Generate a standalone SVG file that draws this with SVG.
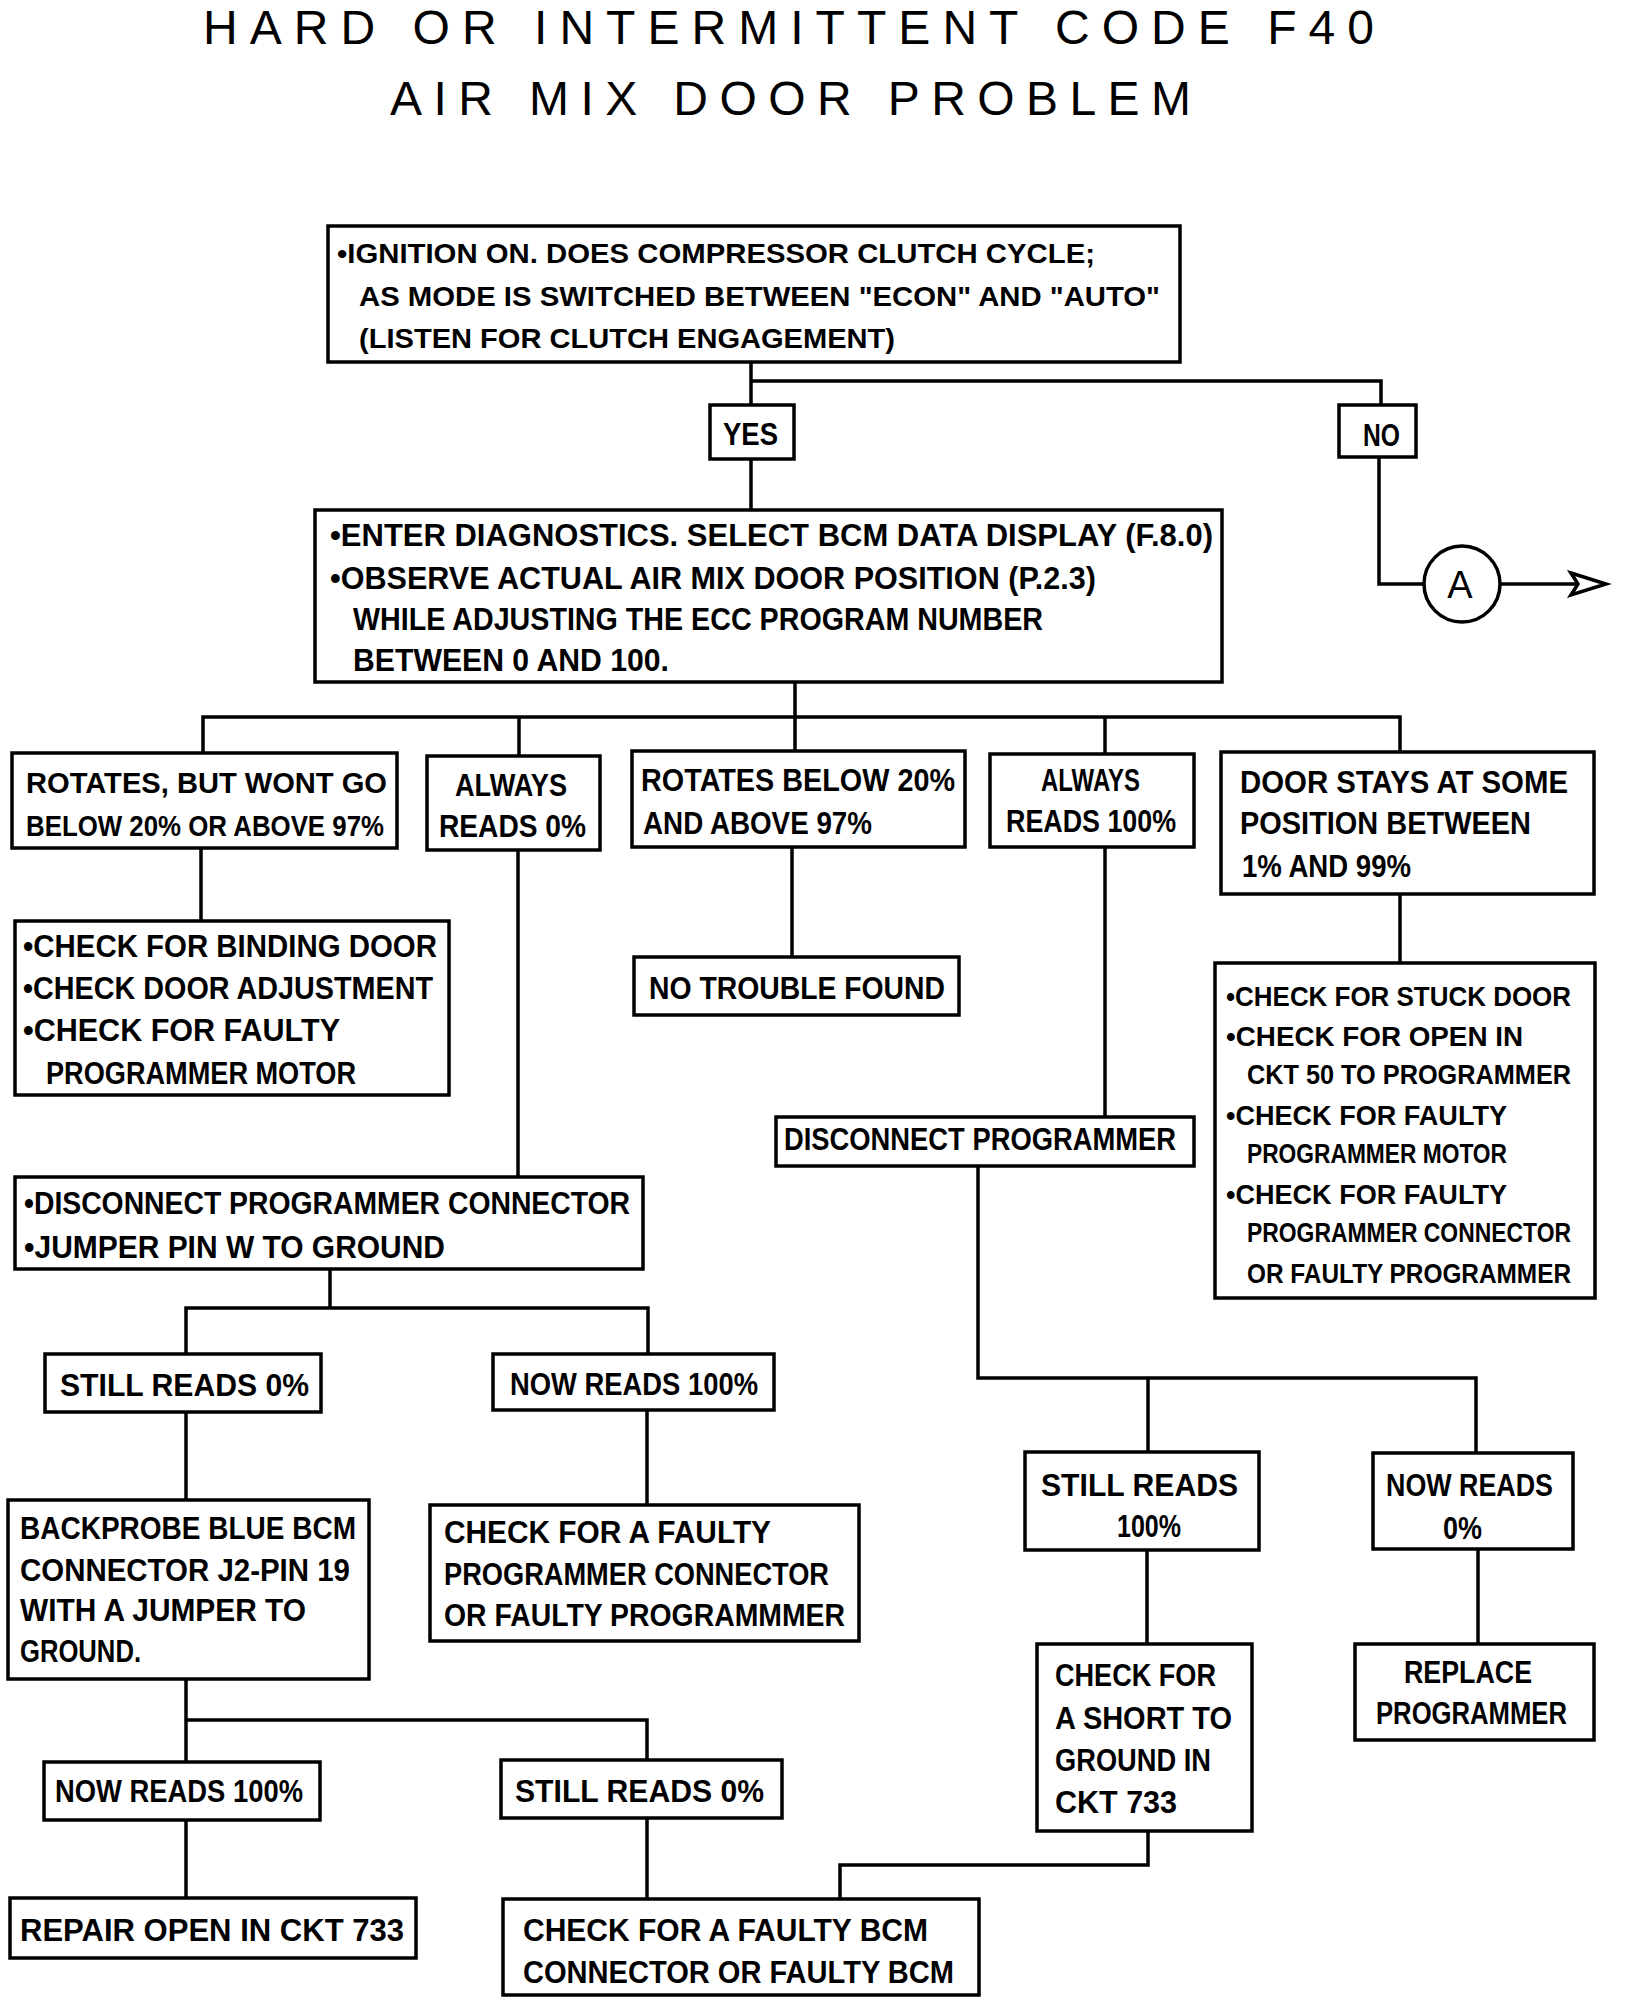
<svg xmlns="http://www.w3.org/2000/svg" width="1632" height="2000" viewBox="0 0 1632 2000">
<style>
.bg{fill:#fff}
.box{fill:#fff;stroke:#000;stroke-width:3.5}
.ln{fill:none;stroke:#000;stroke-width:3.5;stroke-linejoin:miter}
.t{font-family:"Liberation Sans",Arial,sans-serif;font-weight:bold;font-size:32px;fill:#000}
.s{font-size:28px}
.j{font-size:27px}
.a{font-size:29px}
.ttl{font-family:"Liberation Sans",Arial,sans-serif;font-weight:normal;font-size:48px;fill:#000}
</style>
<rect class="bg" x="0" y="0" width="1632" height="2000"/>
<g id="title">
<text class="ttl" x="203" y="44" textLength="1171" lengthAdjust="spacing">HARD OR INTERMITTENT CODE F40</text>
<text class="ttl" x="390" y="115" font-size="52" textLength="801" lengthAdjust="spacing">AIR MIX DOOR PROBLEM</text>
</g>
<g id="connectors">
<polyline class="ln" points="751,362 751,405"/>
<polyline class="ln" points="751,381 1381,381 1381,405"/>
<polyline class="ln" points="751,459 751,510"/>
<polyline class="ln" points="1379,457 1379,584 1424,584"/>
<line class="ln" x1="1500" y1="584" x2="1604" y2="584"/>
<polygon points="1571,573 1606,584 1571,595 1578,584" fill="#fff" stroke="#000" stroke-width="3.5" stroke-linejoin="miter"/>
<polyline class="ln" points="795,682 795,717"/>
<polyline class="ln" points="203,753 203,717 1400,717 1400,752"/>
<line class="ln" x1="519" y1="717" x2="519" y2="756"/>
<line class="ln" x1="795" y1="717" x2="795" y2="751"/>
<line class="ln" x1="1105" y1="717" x2="1105" y2="754"/>
<line class="ln" x1="201" y1="848" x2="201" y2="921"/>
<line class="ln" x1="792" y1="847" x2="792" y2="957"/>
<line class="ln" x1="518" y1="850" x2="518" y2="1177"/>
<line class="ln" x1="1105" y1="847" x2="1105" y2="1117"/>
<line class="ln" x1="1400" y1="894" x2="1400" y2="963"/>
<line class="ln" x1="330" y1="1269" x2="330" y2="1308"/>
<polyline class="ln" points="186,1354 186,1308 648,1308 648,1354"/>
<line class="ln" x1="186" y1="1412" x2="186" y2="1500"/>
<line class="ln" x1="647" y1="1410" x2="647" y2="1505"/>
<polyline class="ln" points="186,1762 186,1679"/>
<polyline class="ln" points="186,1720 647,1720 647,1760"/>
<line class="ln" x1="186" y1="1820" x2="186" y2="1898"/>
<line class="ln" x1="647" y1="1818" x2="647" y2="1899"/>
<polyline class="ln" points="978,1166 978,1378 1476,1378 1476,1453"/>
<line class="ln" x1="1148" y1="1378" x2="1148" y2="1452"/>
<line class="ln" x1="1147" y1="1550" x2="1147" y2="1644"/>
<line class="ln" x1="1478" y1="1549" x2="1478" y2="1644"/>
<polyline class="ln" points="1148,1831 1148,1865 840,1865 840,1899"/>
</g>
<g id="n1"><rect class="box" x="328" y="226" width="852" height="136"/>
<text class="t s" x="337" y="263" textLength="758" lengthAdjust="spacingAndGlyphs">•IGNITION ON. DOES COMPRESSOR CLUTCH CYCLE;</text>
<text class="t s" x="359" y="306" textLength="801" lengthAdjust="spacingAndGlyphs">AS MODE IS SWITCHED BETWEEN "ECON" AND "AUTO"</text>
<text class="t s" x="359" y="348" textLength="536" lengthAdjust="spacingAndGlyphs">(LISTEN FOR CLUTCH ENGAGEMENT)</text></g>
<g id="yes"><rect class="box" x="710" y="405" width="84" height="54"/>
<text class="t" x="723" y="445" textLength="55" lengthAdjust="spacingAndGlyphs">YES</text></g>
<g id="no"><rect class="box" x="1339" y="405" width="77" height="52"/>
<text class="t" x="1363" y="446" textLength="37" lengthAdjust="spacingAndGlyphs">NO</text></g>
<g id="a"><circle cx="1462" cy="584" r="38" fill="#fff" stroke="#000" stroke-width="3.5"/>
<text x="1460" y="598" text-anchor="middle" font-family="Liberation Sans, Arial, sans-serif" font-size="38">A</text></g>
<g id="n2"><rect class="box" x="315" y="510" width="907" height="172"/>
<text class="t" x="330" y="546" textLength="883" lengthAdjust="spacingAndGlyphs">•ENTER DIAGNOSTICS. SELECT BCM DATA DISPLAY (F.8.0)</text>
<text class="t" x="330" y="589" textLength="766" lengthAdjust="spacingAndGlyphs">•OBSERVE ACTUAL AIR MIX DOOR POSITION (P.2.3)</text>
<text class="t" x="353" y="630" textLength="690" lengthAdjust="spacingAndGlyphs">WHILE ADJUSTING THE ECC PROGRAM NUMBER</text>
<text class="t" x="353" y="671" textLength="316" lengthAdjust="spacingAndGlyphs">BETWEEN 0 AND 100.</text></g>
<g id="nA"><rect class="box" x="12" y="753" width="385" height="95"/>
<text class="t a" x="26" y="793" textLength="361" lengthAdjust="spacingAndGlyphs">ROTATES, BUT WONT GO</text>
<text class="t a" x="26" y="836" textLength="358" lengthAdjust="spacingAndGlyphs">BELOW 20% OR ABOVE 97%</text></g>
<g id="nB"><rect class="box" x="427" y="756" width="173" height="94"/>
<text class="t" x="455" y="796" textLength="112" lengthAdjust="spacingAndGlyphs">ALWAYS</text>
<text class="t" x="439" y="837" textLength="147" lengthAdjust="spacingAndGlyphs">READS 0%</text></g>
<g id="nC"><rect class="box" x="632" y="751" width="333" height="96"/>
<text class="t" x="641" y="791" textLength="314" lengthAdjust="spacingAndGlyphs">ROTATES BELOW 20%</text>
<text class="t" x="643" y="834" textLength="229" lengthAdjust="spacingAndGlyphs">AND ABOVE 97%</text></g>
<g id="nD"><rect class="box" x="990" y="754" width="204" height="93"/>
<text class="t" x="1041" y="791" textLength="99" lengthAdjust="spacingAndGlyphs">ALWAYS</text>
<text class="t" x="1006" y="832" textLength="170" lengthAdjust="spacingAndGlyphs">READS 100%</text></g>
<g id="nE"><rect class="box" x="1221" y="752" width="373" height="142"/>
<text class="t" x="1240" y="793" textLength="328" lengthAdjust="spacingAndGlyphs">DOOR STAYS AT SOME</text>
<text class="t" x="1240" y="834" textLength="291" lengthAdjust="spacingAndGlyphs">POSITION BETWEEN</text>
<text class="t" x="1242" y="877" textLength="169" lengthAdjust="spacingAndGlyphs">1% AND 99%</text></g>
<g id="nF"><rect class="box" x="15" y="921" width="434" height="174"/>
<text class="t" x="23" y="957" textLength="414" lengthAdjust="spacingAndGlyphs">•CHECK FOR BINDING DOOR</text>
<text class="t" x="23" y="999" textLength="410" lengthAdjust="spacingAndGlyphs">•CHECK DOOR ADJUSTMENT</text>
<text class="t" x="23" y="1041" textLength="317" lengthAdjust="spacingAndGlyphs">•CHECK FOR FAULTY</text>
<text class="t" x="46" y="1084" textLength="310" lengthAdjust="spacingAndGlyphs">PROGRAMMER MOTOR</text></g>
<g id="nG"><rect class="box" x="634" y="957" width="325" height="58"/>
<text class="t" x="649" y="999" textLength="296" lengthAdjust="spacingAndGlyphs">NO TROUBLE FOUND</text></g>
<g id="nH"><rect class="box" x="15" y="1177" width="628" height="92"/>
<text class="t" x="24" y="1214" textLength="606" lengthAdjust="spacingAndGlyphs">•DISCONNECT PROGRAMMER CONNECTOR</text>
<text class="t" x="24" y="1258" textLength="421" lengthAdjust="spacingAndGlyphs">•JUMPER PIN W TO GROUND</text></g>
<g id="nI"><rect class="box" x="776" y="1117" width="418" height="49"/>
<text class="t" x="784" y="1150" textLength="392" lengthAdjust="spacingAndGlyphs">DISCONNECT PROGRAMMER</text></g>
<g id="nJ"><rect class="box" x="1215" y="963" width="380" height="335"/>
<text class="t j" x="1226" y="1006" textLength="345" lengthAdjust="spacingAndGlyphs">•CHECK FOR STUCK DOOR</text>
<text class="t j" x="1226" y="1046" textLength="297" lengthAdjust="spacingAndGlyphs">•CHECK FOR OPEN IN</text>
<text class="t j" x="1247" y="1084" textLength="324" lengthAdjust="spacingAndGlyphs">CKT 50 TO PROGRAMMER</text>
<text class="t j" x="1226" y="1125" textLength="281" lengthAdjust="spacingAndGlyphs">•CHECK FOR FAULTY</text>
<text class="t j" x="1247" y="1163" textLength="260" lengthAdjust="spacingAndGlyphs">PROGRAMMER MOTOR</text>
<text class="t j" x="1226" y="1204" textLength="281" lengthAdjust="spacingAndGlyphs">•CHECK FOR FAULTY</text>
<text class="t j" x="1247" y="1242" textLength="324" lengthAdjust="spacingAndGlyphs">PROGRAMMER CONNECTOR</text>
<text class="t j" x="1247" y="1283" textLength="324" lengthAdjust="spacingAndGlyphs">OR FAULTY PROGRAMMER</text></g>
<g id="nK"><rect class="box" x="45" y="1354" width="276" height="58"/>
<text class="t" x="60" y="1396" textLength="249" lengthAdjust="spacingAndGlyphs">STILL READS 0%</text></g>
<g id="nL"><rect class="box" x="493" y="1354" width="281" height="56"/>
<text class="t" x="510" y="1395" textLength="248" lengthAdjust="spacingAndGlyphs">NOW READS 100%</text></g>
<g id="nM"><rect class="box" x="8" y="1500" width="361" height="179"/>
<text class="t" x="20" y="1539" textLength="336" lengthAdjust="spacingAndGlyphs">BACKPROBE BLUE BCM</text>
<text class="t" x="20" y="1581" textLength="330" lengthAdjust="spacingAndGlyphs">CONNECTOR J2-PIN 19</text>
<text class="t" x="20" y="1621" textLength="286" lengthAdjust="spacingAndGlyphs">WITH A JUMPER TO</text>
<text class="t" x="20" y="1662" textLength="121" lengthAdjust="spacingAndGlyphs">GROUND.</text></g>
<g id="nN"><rect class="box" x="430" y="1505" width="429" height="136"/>
<text class="t" x="444" y="1543" textLength="327" lengthAdjust="spacingAndGlyphs">CHECK FOR A FAULTY</text>
<text class="t" x="444" y="1585" textLength="385" lengthAdjust="spacingAndGlyphs">PROGRAMMER CONNECTOR</text>
<text class="t" x="444" y="1626" textLength="401" lengthAdjust="spacingAndGlyphs">OR FAULTY PROGRAMMMER</text></g>
<g id="nO"><rect class="box" x="44" y="1762" width="276" height="58"/>
<text class="t" x="55" y="1802" textLength="248" lengthAdjust="spacingAndGlyphs">NOW READS 100%</text></g>
<g id="nP"><rect class="box" x="501" y="1760" width="281" height="58"/>
<text class="t" x="515" y="1802" textLength="249" lengthAdjust="spacingAndGlyphs">STILL READS 0%</text></g>
<g id="nQ"><rect class="box" x="10" y="1898" width="406" height="60"/>
<text class="t" x="20" y="1941" textLength="384" lengthAdjust="spacingAndGlyphs">REPAIR OPEN IN CKT 733</text></g>
<g id="nR"><rect class="box" x="503" y="1899" width="476" height="96"/>
<text class="t" x="523" y="1941" textLength="405" lengthAdjust="spacingAndGlyphs">CHECK FOR A FAULTY BCM</text>
<text class="t" x="523" y="1983" textLength="431" lengthAdjust="spacingAndGlyphs">CONNECTOR OR FAULTY BCM</text></g>
<g id="nS"><rect class="box" x="1025" y="1452" width="234" height="98"/>
<text class="t" x="1041" y="1496" textLength="197" lengthAdjust="spacingAndGlyphs">STILL READS</text>
<text class="t" x="1117" y="1537" textLength="64" lengthAdjust="spacingAndGlyphs">100%</text></g>
<g id="nT"><rect class="box" x="1373" y="1453" width="200" height="96"/>
<text class="t" x="1386" y="1496" textLength="167" lengthAdjust="spacingAndGlyphs">NOW READS</text>
<text class="t" x="1443" y="1539" textLength="39" lengthAdjust="spacingAndGlyphs">0%</text></g>
<g id="nU"><rect class="box" x="1037" y="1644" width="215" height="187"/>
<text class="t" x="1055" y="1686" textLength="161" lengthAdjust="spacingAndGlyphs">CHECK FOR</text>
<text class="t" x="1055" y="1729" textLength="177" lengthAdjust="spacingAndGlyphs">A SHORT TO</text>
<text class="t" x="1055" y="1771" textLength="156" lengthAdjust="spacingAndGlyphs">GROUND IN</text>
<text class="t" x="1055" y="1813" textLength="122" lengthAdjust="spacingAndGlyphs">CKT 733</text></g>
<g id="nV"><rect class="box" x="1355" y="1644" width="239" height="96"/>
<text class="t" x="1404" y="1683" textLength="128" lengthAdjust="spacingAndGlyphs">REPLACE</text>
<text class="t" x="1376" y="1724" textLength="191" lengthAdjust="spacingAndGlyphs">PROGRAMMER</text></g>
</svg>
